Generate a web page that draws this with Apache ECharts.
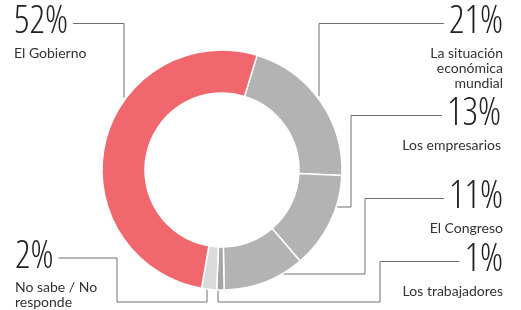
<!DOCTYPE html>
<html>
<head>
<meta charset="utf-8">
<script src="https://cdn.jsdelivr.net/npm/echarts@6/dist/echarts.min.js"></script>
<style>
  html, body { margin: 0; padding: 0; background: #fff; }
  #chart { width: 521px; height: 310px; }
</style>
</head>
<body>
<div id="chart"></div>
<script>
// datos
const categories = ['La situación\neconómica\nmundial', 'Los empresarios', 'El Congreso', 'Los trabajadores', 'No sabe / No\nresponde', 'El Gobierno']
const values = [21, 13, 11, 1, 2, 52]
const sliceColors = ['#b3b3b3', '#b3b3b3', '#b3b3b3', '#a6a6a6', '#dadada', '#f0676d']

// geometria de la dona
const CX = 222, CY = 170, R_IN = 77, R_OUT = 120

// posicion de cada etiqueta (lado, borde x, centro y del porcentaje)
const labelSide = ['right', 'right', 'right', 'right', 'left', 'left']
const labelX = [503, 501, 503, 503, 15, 14]
const labelY = [23.5, 115.5, 198.5, 261.5, 258, 23.5]
// codos de las lineas guia
const leader = [
  { x: 319 },
  { x: 351, y: 207 },
  { x: 365, y: 274 },
  { x: 380, y: 302, x2: 218 },
  { x: 117, y: 302, x2: 207 },
  { x: 124 }
]

const PCT_FAMILY = '"Open Sans", sans-serif'
const PCT_STRETCH = 'semi-condensed'
const PCT_WEIGHT = 300
const PCT_SIZE = 38
const P_LH = 46

const ctx = document.createElement('canvas').getContext('2d')
ctx.font = PCT_STRETCH + ' ' + PCT_WEIGHT + ' ' + PCT_SIZE + 'px ' + PCT_FAMILY
const pctWidth = txt => ctx.measureText(txt).width

function ringY(x, sign) {
  return CY + sign * Math.sqrt(R_OUT * R_OUT - (x - CX) * (x - CX))
}
function ringX(y) {
  return CX + Math.sqrt(R_OUT * R_OUT - (y - CY) * (y - CY))
}

function leaderPoints(i) {
  const side = labelSide[i]
  const y = labelY[i]
  const w = pctWidth(values[i] + '%')
  const xs = side === 'right' ? labelX[i] - w - 5 : labelX[i] + w + 5
  const l = leader[i]
  const pts = [[xs, y], [l.x, y]]
  if (l.x2 != null) {
    pts.push([l.x, l.y], [l.x2, l.y], [l.x2, ringY(l.x2, 1) - 2])
  } else if (l.y != null) {
    pts.push([l.x, l.y], [ringX(l.y) + 1, l.y])
  } else {
    pts.push([l.x, ringY(l.x, -1) - 3])
  }
  return pts
}

const chart = echarts.init(document.getElementById('chart'))

const option = {
  backgroundColor: '#fff',
  animation: false,
  series: [{
    type: 'pie',
    center: [CX, CY],
    radius: [R_IN, R_OUT],
    startAngle: 73,
    clockwise: true,
    silent: true,
    itemStyle: {
      borderColor: '#fff',
      borderWidth: 1.5
    },
    data: categories.map((name, i) => ({
      name: name,
      value: values[i],
      itemStyle: { color: sliceColors[i] }
    })),
    label: {
      show: true,
      position: 'outside',
      formatter: p => {
        const lines = p.name.split('\n').map(s => '{n|' + s + '}').join('\n')
        return '{p|' + p.value + '%}\n' + lines
      },
      rich: {
        p: {
          fontFamily: PCT_FAMILY,
          fontStyle: PCT_STRETCH,
          fontWeight: PCT_WEIGHT,
          fontSize: PCT_SIZE,
          lineHeight: P_LH,
          color: '#222'
        },
        n: {
          fontFamily: 'Lato, "Open Sans", sans-serif',
          fontSize: 14,
          lineHeight: 15,
          color: '#333'
        }
      }
    },
    labelLine: {
      show: true,
      smooth: false,
      length: 10,
      length2: 10,
      lineStyle: { color: '#707070', width: 1 }
    },
    labelLayout: params => {
      const i = params.dataIndex
      return {
        x: labelX[i],
        y: labelY[i] - P_LH / 2 - 1,
        align: labelSide[i],
        verticalAlign: 'top',
        labelLinePoints: leaderPoints(i)
      }
    }
  }]
}

chart.setOption(option)
</script>
</body>
</html>
